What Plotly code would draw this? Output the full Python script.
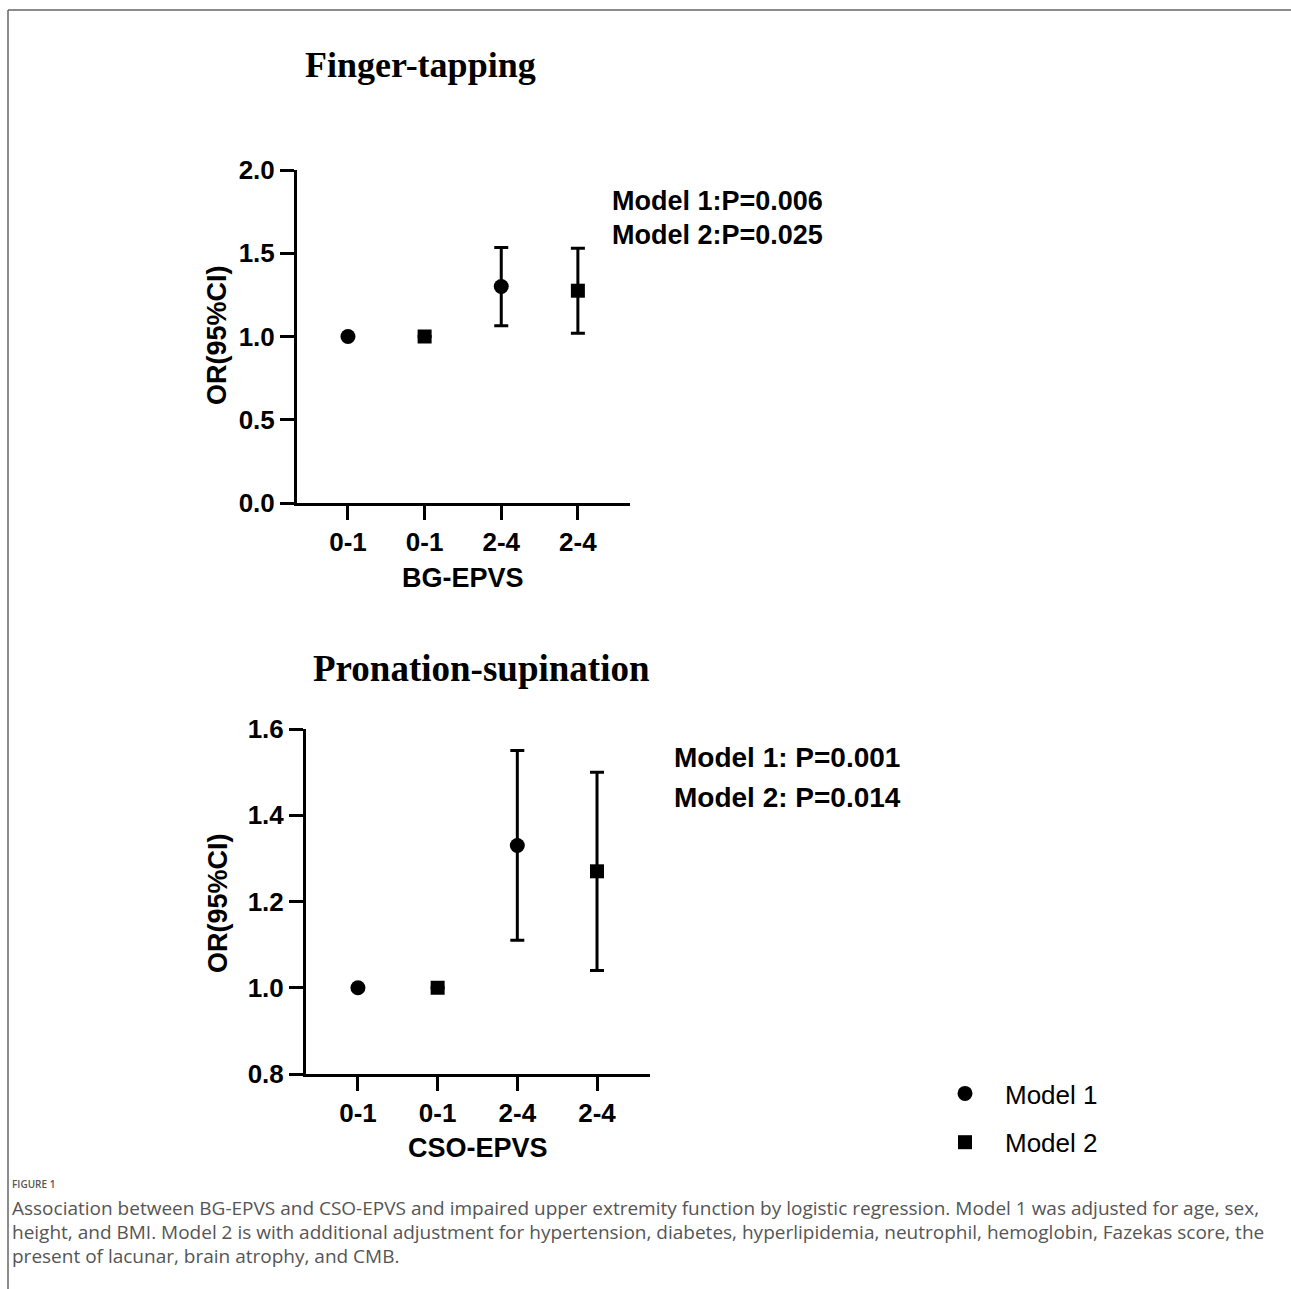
import plotly.graph_objects as go

W, H = 1291, 1289

# ---------------- data ----------------
tick_labels = ["0-1", "0-1", "2-4", "2-4"]
tick_pos = [0, 1, 2, 3]

# Finger-tapping (BG-EPVS)
ft_m1_x = [0, 2]
ft_m1_or = [1.00, 1.30]
ft_m1_lo = [None, 1.065]
ft_m1_hi = [None, 1.535]
ft_m2_x = [1, 3]
ft_m2_or = [1.00, 1.275]
ft_m2_lo = [None, 1.02]
ft_m2_hi = [None, 1.53]

# Pronation-supination (CSO-EPVS)
ps_m1_x = [0, 2]
ps_m1_or = [1.00, 1.33]
ps_m1_lo = [None, 1.11]
ps_m1_hi = [None, 1.55]
ps_m2_x = [1, 3]
ps_m2_or = [1.00, 1.27]
ps_m2_lo = [None, 1.04]
ps_m2_hi = [None, 1.50]

ft_pvals = ["Model 1:P=0.006", "Model 2:P=0.025"]
ps_pvals = ["Model 1: P=0.001", "Model 2: P=0.014"]

caption_lines = [
    "Association between BG-EPVS and CSO-EPVS and impaired upper extremity function by logistic regression. Model 1 was adjusted for age, sex,",
    "height, and BMI. Model 2 is with additional adjustment for hypertension, diabetes, hyperlipidemia, neutrophil, hemoglobin, Fazekas score, the",
    "present of lacunar, brain atrophy, and CMB.",
]


def plus(orv, hi):
    return [None if h is None else h - o for o, h in zip(orv, hi)]


def minus(orv, lo):
    return [None if l is None else o - l for o, l in zip(orv, lo)]


def px(x):
    return x / W


def py(y):
    return 1 - y / H


fig = go.Figure()

err_style = dict(type="data", color="black", thickness=3, width=7, symmetric=False)


def add(xv, orv, lo, hi, symbol, size, name, xa, ya, show):
    fig.add_trace(go.Scatter(
        x=xv, y=orv, mode="markers", name=name,
        marker=dict(symbol=symbol, size=size, color="black"),
        error_y=dict(array=plus(orv, hi), arrayminus=minus(orv, lo), **err_style),
        xaxis=xa, yaxis=ya, showlegend=show, legendgroup=name,
    ))


add(ft_m1_x, ft_m1_or, ft_m1_lo, ft_m1_hi, "circle", 15, "Model 1", "x", "y", True)
add(ft_m2_x, ft_m2_or, ft_m2_lo, ft_m2_hi, "square", 14, "Model 2", "x", "y", True)
add(ps_m1_x, ps_m1_or, ps_m1_lo, ps_m1_hi, "circle", 15, "Model 1", "x2", "y2", False)
add(ps_m2_x, ps_m2_or, ps_m2_lo, ps_m2_hi, "square", 14, "Model 2", "x2", "y2", False)

bold = dict(family="Liberation Sans, Arial", size=26, color="black", weight="bold")

axis_common = dict(
    showline=True, linewidth=3, linecolor="black", ticks="outside", ticklen=14,
    tickwidth=3, tickcolor="black", showgrid=False, zeroline=False, tickfont=bold,
    fixedrange=True,
)

fig.update_layout(
    width=W, height=H,
    margin=dict(l=0, r=0, t=0, b=0, autoexpand=False),
    paper_bgcolor="white", plot_bgcolor="white",
    xaxis=dict(domain=[px(297), px(630)], range=[-0.665, 3.68], tickvals=tick_pos,
               ticktext=tick_labels, anchor="y", **axis_common),
    yaxis=dict(domain=[py(503), py(170)], range=[0, 2], tickvals=[0, 0.5, 1, 1.5, 2],
               tickformat=".1f", anchor="x", **axis_common),
    xaxis2=dict(domain=[px(306), px(650)], range=[-0.652, 3.665], tickvals=tick_pos,
                ticktext=tick_labels, anchor="y2", **axis_common),
    yaxis2=dict(domain=[py(1074), py(729)], range=[0.8, 1.6],
                tickvals=[0.8, 1.0, 1.2, 1.4, 1.6], tickformat=".1f", anchor="x2",
                **axis_common),
    legend=dict(x=px(925), y=py(1070), xanchor="left", yanchor="top",
                font=dict(family="Liberation Sans, Arial", size=26, color="black"),
                bgcolor="rgba(0,0,0,0)", tracegroupgap=12, itemwidth=70),
    showlegend=True,
)

ann = []


def text(x, y, s, font, xanchor="center", textangle=0):
    ann.append(dict(x=px(x), y=py(y), xref="paper", yref="paper", text=s,
                    showarrow=False, xanchor=xanchor, yanchor="middle", font=font,
                    textangle=textangle))


title_font = dict(family="Liberation Serif, Times New Roman", size=36, color="black",
                  weight="bold")
text(420, 65, "Finger-tapping", title_font)
text(481, 668, "Pronation-supination", dict(title_font, size=37))

axtitle_font = dict(family="Liberation Sans, Arial", size=27, color="black", weight="bold")
text(463, 578, "BG-EPVS", axtitle_font)
text(478, 1148, "CSO-EPVS", axtitle_font)
text(217, 335, "OR(95%CI)", axtitle_font, textangle=-90)
text(218, 903, "OR(95%CI)", axtitle_font, textangle=-90)

pfont1 = dict(family="Liberation Sans, Arial", size=27, color="black", weight="bold")
text(610, 201, ft_pvals[0], pfont1, xanchor="left")
text(610, 235, ft_pvals[1], pfont1, xanchor="left")
pfont2 = dict(family="Liberation Sans, Arial", size=28, color="black", weight="bold")
text(672, 757, ps_pvals[0], pfont2, xanchor="left")
text(672, 797, ps_pvals[1], pfont2, xanchor="left")

cap_font = dict(family="Open Sans, Noto Sans", size=19, color="#555555")
text(10, 1184, "FIGURE 1",
     dict(family="Open Sans, Noto Sans", size=10, color="#555555", weight=600),
     xanchor="left")
for i, line in enumerate(caption_lines):
    text(10, 1208 + 24 * i, line, cap_font, xanchor="left")

fig.update_layout(annotations=ann)

frame = dict(color="#666666", width=1.5)
fig.update_layout(shapes=[
    dict(type="line", xref="paper", yref="paper", x0=px(8), x1=1, y0=py(10), y1=py(10),
         line=frame),
    dict(type="line", xref="paper", yref="paper", x0=px(8), x1=px(8), y0=py(10), y1=0,
         line=frame),
])

fig.write_html(
    "out.html",
    config={"displayModeBar": False},
    post_script="document.body.style.margin='0';document.body.style.overflow='hidden';",
)
